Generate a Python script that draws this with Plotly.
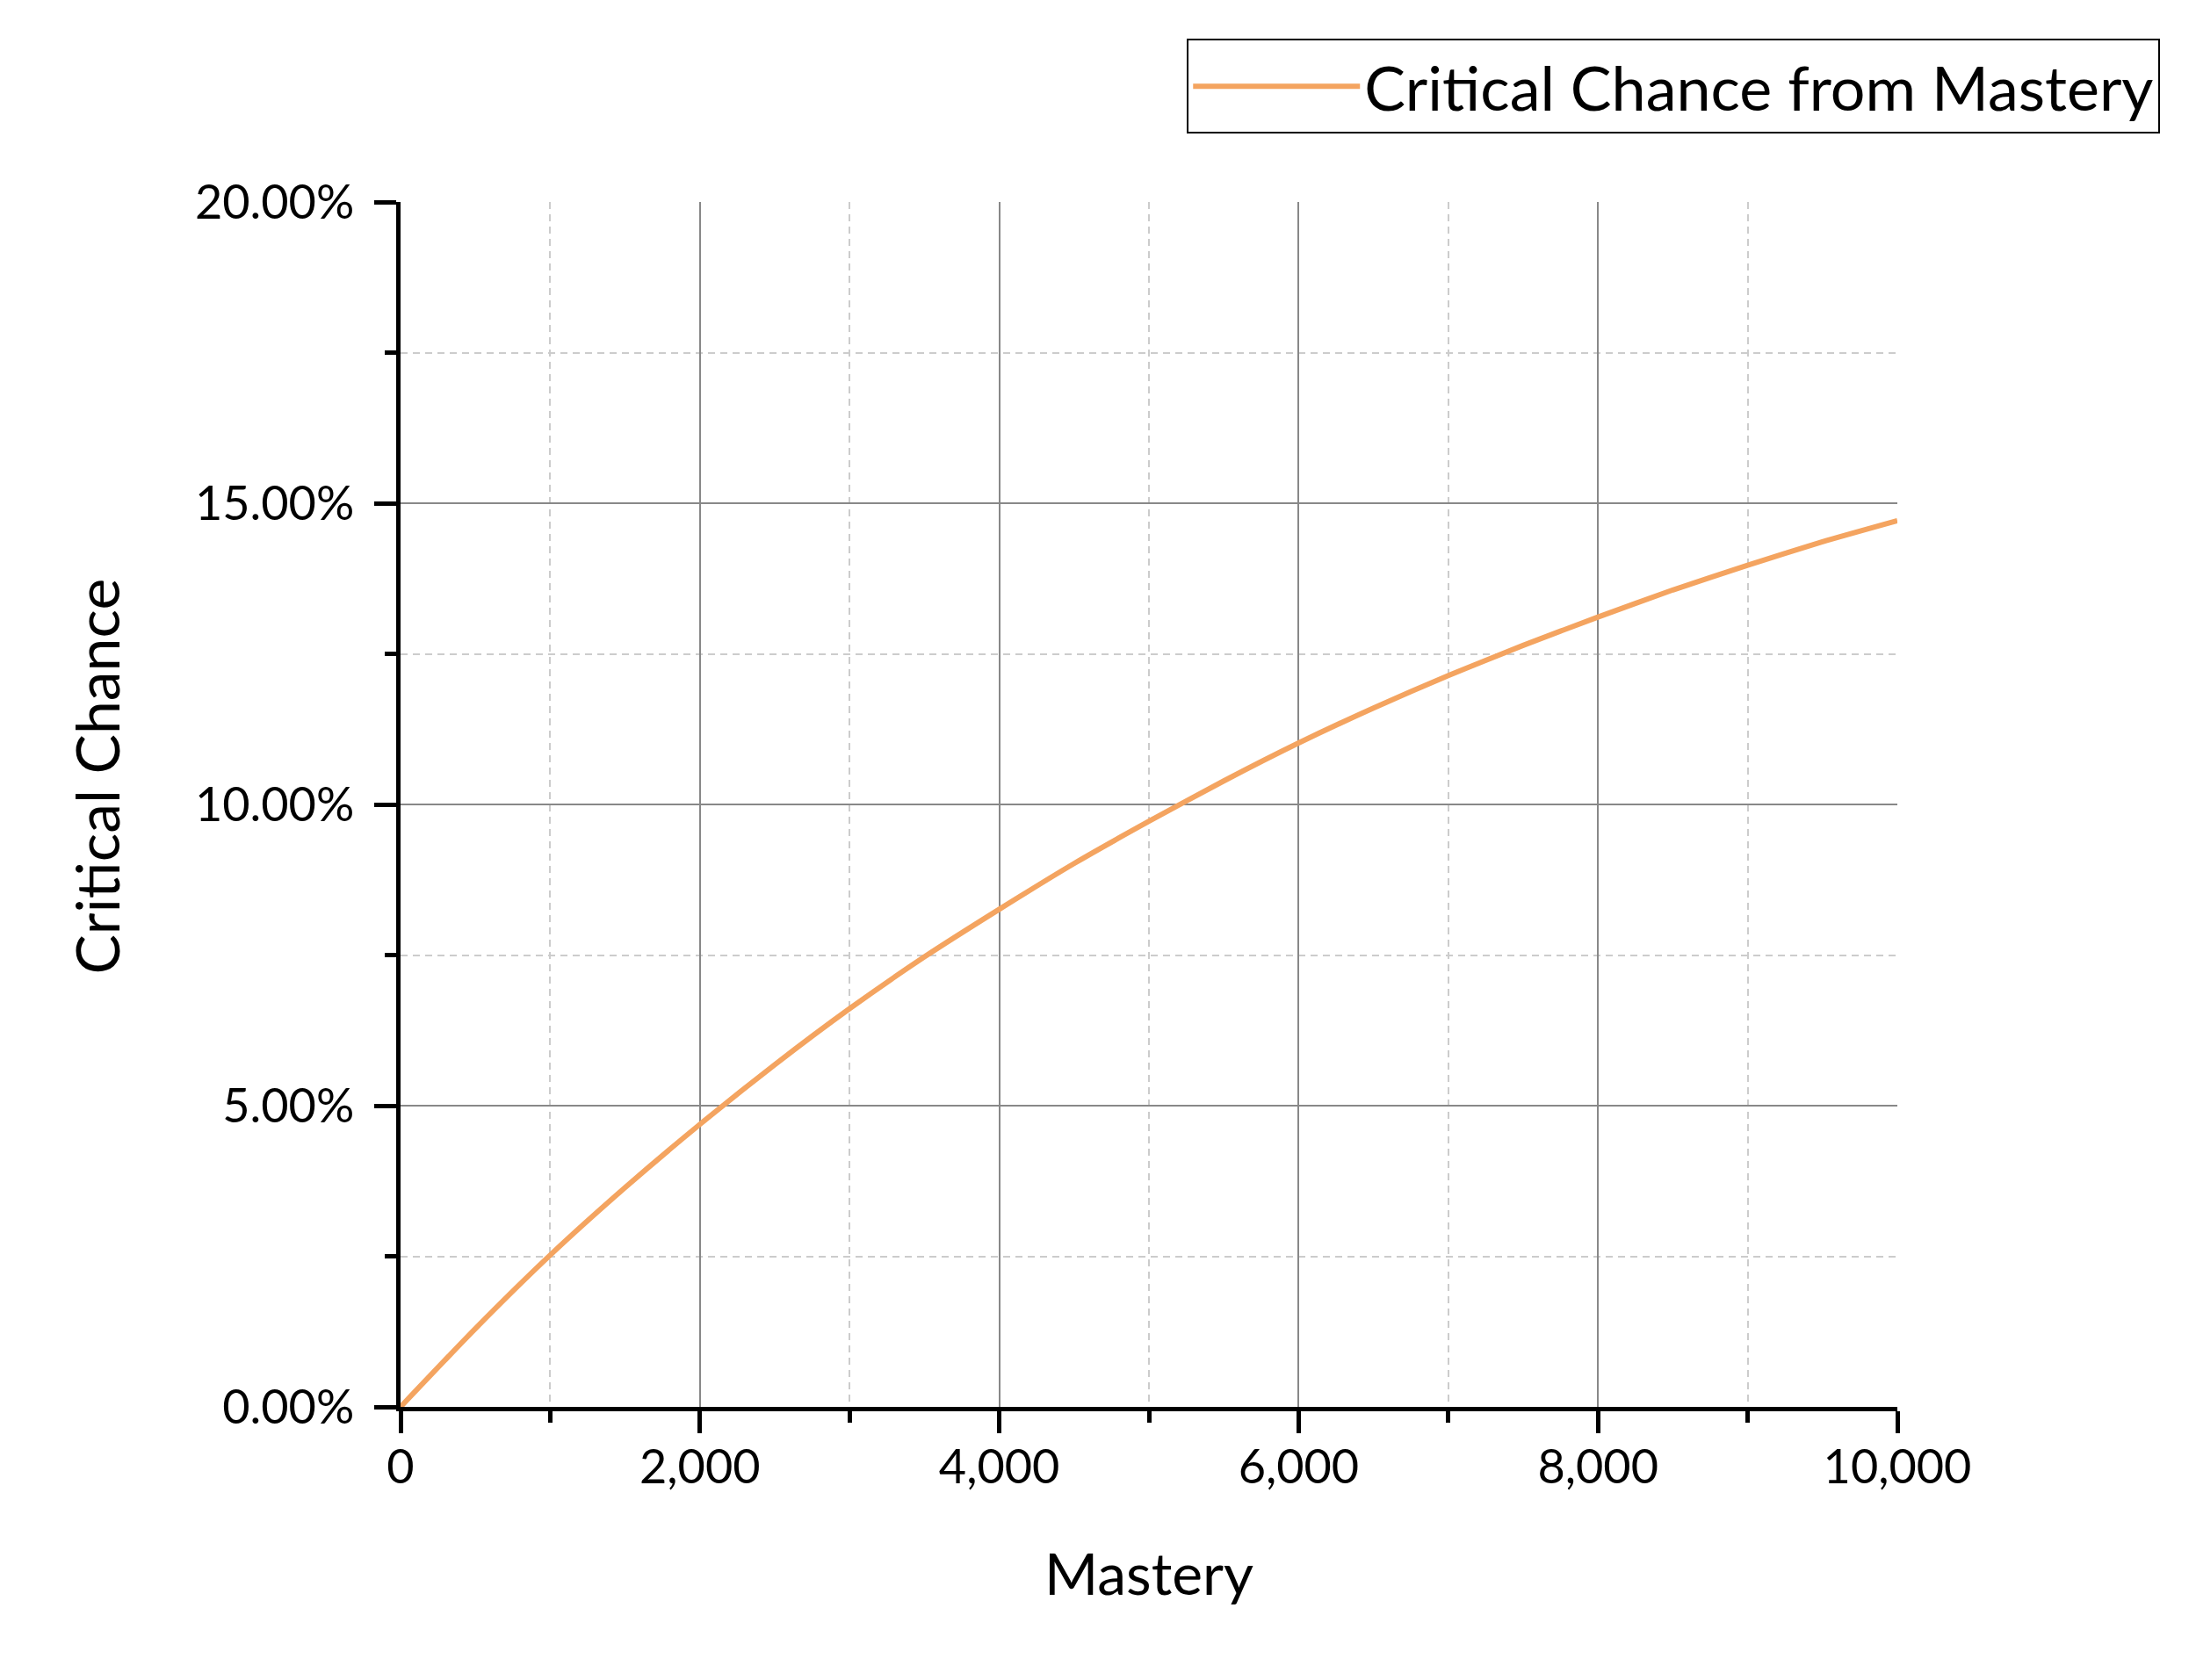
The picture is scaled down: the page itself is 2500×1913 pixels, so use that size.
import plotly.graph_objects as go

# Critical chance (%) gained from Mastery
mastery = [0, 500, 1000, 1500, 2000, 2500, 3000, 3500, 4000, 4500, 5000,
           5500, 6000, 6500, 7000, 7500, 8000, 8500, 9000, 9500, 10000]
crit_pct = [0.0, 1.30, 2.52, 3.64, 4.69, 5.68, 6.61, 7.47, 8.26, 9.02, 9.72,
            10.39, 11.02, 11.60, 12.14, 12.64, 13.11, 13.56, 13.97, 14.36, 14.71]

series_name = 'Critical Chance from Mastery'
x_title = 'Mastery'
y_title = 'Critical Chance'

x_range = [0, 10000]
y_range = [0, 0.20]

FONT = 'Lato, Open Sans, sans-serif'

fig = go.Figure()
fig.add_trace(go.Scatter(
    x=mastery, y=[v / 100 for v in crit_pct],
    mode='lines', name=series_name,
    line=dict(color='#F4A460', width=6, shape='spline', smoothing=0.6),
))

axis_common = dict(
    showline=True, linecolor='black', linewidth=5,
    ticks='outside', ticklen=25, tickwidth=5, tickcolor='black',
    showgrid=True, gridcolor='#888888', gridwidth=2, zeroline=False,
    tickfont=dict(family=FONT, size=54, color='black'),
)
minor_common = dict(ticks='outside', ticklen=13, tickwidth=5, tickcolor='black',
                    showgrid=True, gridcolor='#cccccc', gridwidth=2, griddash='8px,6px')

fig.update_layout(
    width=2500, height=1913,
    paper_bgcolor='white', plot_bgcolor='white',
    margin=dict(l=448, r=348, t=222, b=319, autoexpand=False),
    font=dict(family=FONT, color='black'),
    showlegend=True,
    legend=dict(
        xref='container', yref='container', x=0.9805, y=0.981,
        xanchor='right', yanchor='top',
        bordercolor='black', borderwidth=2, bgcolor='white',
        font=dict(family=FONT, size=70, color='black'),
        itemwidth=190,
    ),
    xaxis=dict(
        range=x_range, tick0=0, dtick=2000, tickformat=',',
        minor=dict(dtick=1000, **minor_common),
        title=dict(text=x_title, font=dict(family=FONT, size=66), standoff=72),
        ticklabelstandoff=-8,
        **axis_common,
    ),
    yaxis=dict(
        range=y_range, tick0=0, dtick=0.05, tickformat='.2%',
        minor=dict(dtick=0.025, **minor_common),
        ticklabelstandoff=12,
        **axis_common,
    ),
)

# y title sits a little above the plot's middle in the reference
fig.add_annotation(
    text=y_title, textangle=-90, showarrow=False,
    xref='paper', yref='paper', x=0, y=0.523, xshift=-347,
    xanchor='center', yanchor='middle',
    font=dict(family=FONT, size=68, color='black'),
)

fig.write_html('out.html')
